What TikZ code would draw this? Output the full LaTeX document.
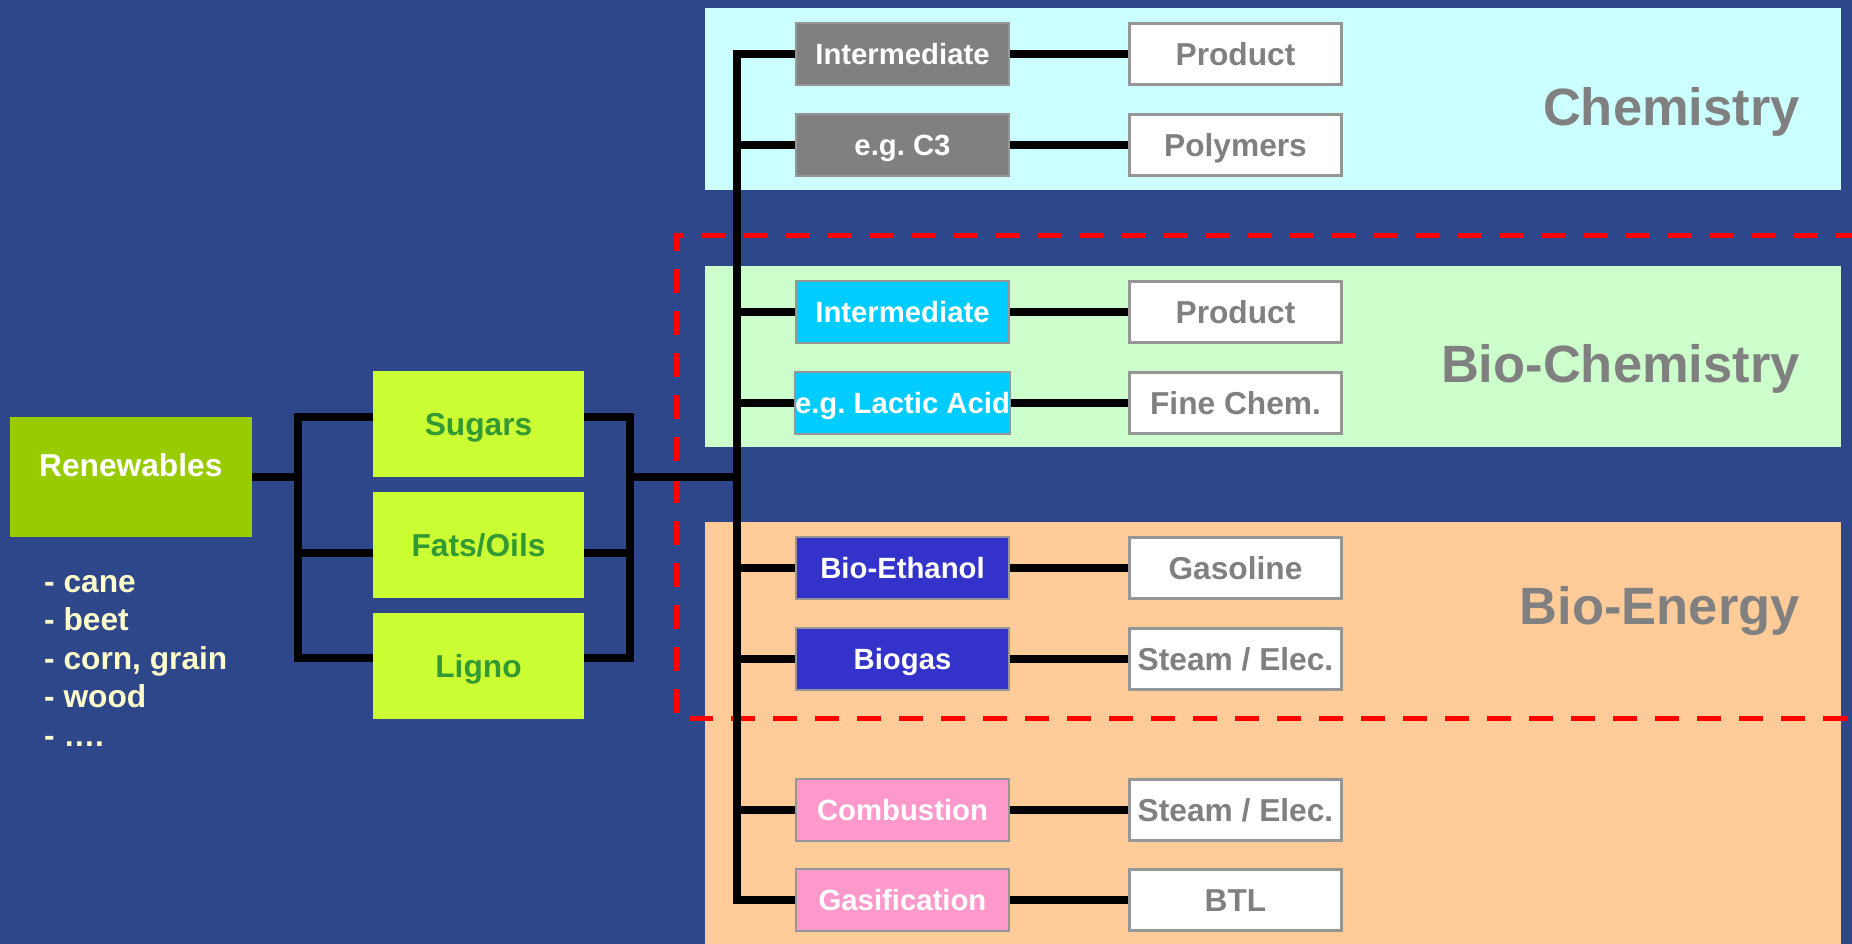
\documentclass[tikz,border=0pt]{standalone}
\usepackage{fontspec}
\setmainfont{Liberation Sans}
\frenchspacing
\definecolor{bgblue}{RGB}{46,70,138}
\definecolor{chempanel}{RGB}{204,255,255}
\definecolor{biopanel}{RGB}{204,255,204}
\definecolor{energypanel}{RGB}{255,204,153}
\definecolor{renew}{RGB}{153,204,0}
\definecolor{feed}{RGB}{204,255,51}
\definecolor{feedtext}{RGB}{51,153,51}
\definecolor{listtext}{RGB}{255,255,204}
\definecolor{boxgray}{RGB}{128,128,128}
\definecolor{edgegray}{RGB}{150,150,150}
\definecolor{cyanbox}{RGB}{0,204,255}
\definecolor{bluebox}{RGB}{51,51,204}
\definecolor{pinkbox}{RGB}{255,153,204}
\begin{document}
\frenchspacing
\begin{tikzpicture}[x=1pt,y=-1pt,
  conn/.style={line width=7.5, line join=miter, line cap=butt, black},
  midbox/.style={minimum width=213, minimum height=62, inner sep=0, draw=edgegray, line width=1.5,
    font=\fontsize{29.3}{32}\selectfont\bfseries\frenchspacing, text=white, text height=21pt, text depth=0pt},
  prodbox/.style={minimum width=212, minimum height=61, inner sep=0, draw=edgegray, line width=2.5, fill=white,
    font=\fontsize{31.7}{34}\selectfont\bfseries\frenchspacing, text=boxgray, text height=22.7pt, text depth=0pt},
  feedbox/.style={minimum width=211, minimum height=106, inner sep=0, fill=feed,
    font=\fontsize{31.7}{34}\selectfont\bfseries, text=feedtext, text height=22.7pt, text depth=0pt},
  listitem/.style={anchor=base west, inner sep=0, font=\fontsize{31.7}{34}\selectfont\bfseries, text=listtext},
  paneltitle/.style={anchor=base east, inner sep=0, font=\fontsize{52.5}{56}\selectfont\bfseries, text=boxgray},
  reddash/.style={draw=red, line width=5, dash pattern=on 24pt off 18pt}
]
\useasboundingbox (0,0) rectangle (1852,944);
\fill[bgblue] (0,0) rectangle (1852,944);
% panels
\fill[chempanel] (705,8) rectangle (1841,190);
\fill[biopanel] (705,266) rectangle (1841,447);
\fill[energypanel] (705,522) rectangle (1841,944);
% titles
\node[paneltitle] (tchem) at (1800,126) {Chemistry};
\node[paneltitle] (tbio) at (1800,382) {Bio-Chemistry};
\node[paneltitle] (tene) at (1800,624) {Bio-Energy};
% red dashed frame
\coordinate (dTR) at (1860,235);
\coordinate (dTL) at (676,235);
\coordinate (dBL) at (676,718);
\coordinate (dBR) at (1860,718);
\draw[reddash] (dTR) -- (dTL) -- (dBL) -- (dBR);
% left part
\node[fill=renew, minimum width=242, minimum height=120, inner sep=0, text=white,
  font=\fontsize{31.7}{34}\selectfont\bfseries, text height=22.7pt, text depth=23.3pt] (ren) at (130.8,477) {Renewables};
\node[listitem] (l1) at (44,592) {- cane};
\node[listitem] (l2) at (44,630.5) {- beet};
\node[listitem] (l3) at (44,669) {- corn, grain};
\node[listitem] (l4) at (44,707.5) {- wood};
\node[listitem] (l5) at (44,746) {- ….};
\node[feedbox] (sug) at (478.5,424) {Sugars};
\node[feedbox] (fat) at (478.5,545) {Fats/Oils};
\node[feedbox] (lig) at (478.5,666) {Ligno};
% bracket coordinates
\coordinate (blt) at (298,417);
\coordinate (blm) at (298,553);
\coordinate (blb) at (298,658);
\coordinate (brt) at (630,417);
\coordinate (brm) at (630,553);
\coordinate (brb) at (630,658);
\coordinate (trk) at (737,477);
% middle boxes
\node[midbox, fill=boxgray] (i1) at (902.5,54) {Intermediate};
\node[midbox, fill=boxgray] (i2) at (902.5,145) {e.g. C3};
\node[midbox, fill=cyanbox] (i3) at (902.5,312) {Intermediate};
\node[midbox, fill=cyanbox] (i4) at (902.5,403) {e.g. Lactic Acid};
\node[midbox, fill=bluebox] (i5) at (902.5,568) {Bio-Ethanol};
\node[midbox, fill=bluebox] (i6) at (902.5,659) {Biogas};
\node[midbox, fill=pinkbox] (i7) at (902.5,810) {Combustion};
\node[midbox, fill=pinkbox] (i8) at (902.5,900) {Gasification};
% products
\node[prodbox] (p1) at (1235.5,54) {Product};
\node[prodbox] (p2) at (1235.5,145) {Polymers};
\node[prodbox] (p3) at (1235.5,312) {Product};
\node[prodbox] (p4) at (1235.5,403) {Fine Chem.};
\node[prodbox] (p5) at (1235.5,568) {Gasoline};
\node[prodbox] (p6) at (1235.5,659) {Steam / Elec.};
\node[prodbox] (p7) at (1235.5,810) {Steam / Elec.};
\node[prodbox] (p8) at (1235.5,900) {BTL};
% connectors
\draw[conn] (ren.east) -- (ren.east -| blt);
\draw[conn] (sug.west |- blt) -- (blt) -- (blb) -- (lig.west |- blb);
\draw[conn] (blm) -- (fat.west |- blm);
\draw[conn] (sug.east |- brt) -- (brt) -- (brb) -- (lig.east |- brb);
\draw[conn] (fat.east |- brm) -- (brm);
\draw[conn] (brt |- ren.east) -- (trk);
\draw[conn] (i1.west) -- (i1.west -| trk) -- (i8.west -| trk) -- (i8.west);
\foreach \n in {i2,i3,i4,i5,i6,i7} { \draw[conn] (\n.west -| trk) -- (\n.west); }
\foreach \a/\b in {i1/p1,i2/p2,i3/p3,i4/p4,i5/p5,i6/p6,i7/p7,i8/p8} { \draw[conn] (\a.east) -- (\b.west); }
\end{tikzpicture}
\end{document}
